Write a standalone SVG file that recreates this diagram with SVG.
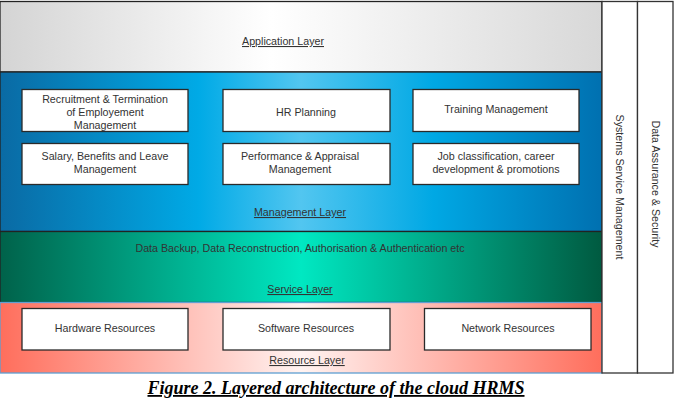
<svg xmlns="http://www.w3.org/2000/svg" width="676" height="405" viewBox="0 0 676 405">
<defs>
<linearGradient id="gApp" x1="0" y1="0" x2="1" y2="0">
<stop offset="0" stop-color="#d4d4d4"/><stop offset="0.45" stop-color="#ffffff"/><stop offset="1" stop-color="#d8d8d8"/>
</linearGradient>
<linearGradient id="gMgmt" x1="0" y1="0" x2="1" y2="0">
<stop offset="0" stop-color="#0a6aa4"/><stop offset="0.33" stop-color="#00aae6"/><stop offset="0.5" stop-color="#52c6f0"/><stop offset="0.72" stop-color="#00a8e4"/><stop offset="1" stop-color="#0070b0"/>
</linearGradient>
<linearGradient id="gSvc" x1="0" y1="0" x2="1" y2="0">
<stop offset="0" stop-color="#00624a"/><stop offset="0.5" stop-color="#00e8c2"/><stop offset="1" stop-color="#005a40"/>
</linearGradient>
<linearGradient id="gRes" x1="0" y1="0" x2="1" y2="0">
<stop offset="0" stop-color="#ff6e5c"/><stop offset="0.5" stop-color="#fff3f1"/><stop offset="1" stop-color="#ff6e5c"/>
</linearGradient>
</defs>
<style>
.layer{stroke:#222;stroke-width:1.3}
.box{fill:#fff;stroke:#2a2a2a;stroke-width:1.3}
.col{fill:#fff;stroke:#333;stroke-width:1.3}
text{font-family:"Liberation Sans",Arial,sans-serif;font-size:10.7px;fill:#333}
.lbl{text-anchor:middle}
.ul{text-decoration:underline}
.cap{font-family:"Liberation Serif","Times New Roman",serif;font-size:18px;font-weight:bold;font-style:italic;fill:#000;text-decoration:underline}
</style>
<rect width="676" height="405" fill="#fff"/>
<g id="application-layer">
<rect class="layer" x="0" y="1.5" width="602" height="70.5" fill="url(#gApp)"/>
<text class="lbl ul" x="283" y="45">Application Layer</text>
</g>
<g id="management-layer">
<rect class="layer" x="0" y="72" width="602" height="159.5" fill="url(#gMgmt)"/>
<text class="lbl ul" x="300" y="216">Management Layer</text>
</g>
<g id="service-layer">
<rect class="layer" x="0" y="231.5" width="602" height="71" fill="url(#gSvc)"/>
<text class="lbl" x="300" y="252">Data Backup, Data Reconstruction, Authorisation &amp; Authentication etc</text>
<text class="lbl ul" x="300" y="293">Service Layer</text>
</g>
<g id="resource-layer">
<rect x="0" y="302.5" width="602" height="70.5" fill="url(#gRes)" stroke="#5f9fd2" stroke-width="1.3"/>
<text class="lbl ul" x="307" y="364">Resource Layer</text>
</g>
<g id="recruitment">
<rect class="box" x="22" y="89.5" width="166" height="42"/>
<text class="lbl" x="105" y="103">Recruitment &amp; Termination</text>
<text class="lbl" x="105" y="116">of Employement</text>
<text class="lbl" x="105" y="129">Management</text>
</g>
<g id="hr-planning">
<rect class="box" x="223" y="89.5" width="167" height="42"/>
<text class="lbl" x="306" y="116">HR Planning</text>
</g>
<g id="training">
<rect class="box" x="413" y="89.5" width="166" height="42"/>
<text class="lbl" x="496" y="113">Training Management</text>
</g>
<g id="salary">
<rect class="box" x="22" y="143.5" width="166" height="41"/>
<text class="lbl" x="105" y="160">Salary, Benefits and Leave</text>
<text class="lbl" x="105" y="173">Management</text>
</g>
<g id="performance">
<rect class="box" x="223" y="143.5" width="167" height="41"/>
<text class="lbl" x="300" y="160">Performance &amp; Appraisal</text>
<text class="lbl" x="300" y="173">Management</text>
</g>
<g id="job-classification">
<rect class="box" x="413" y="143.5" width="166" height="41"/>
<text class="lbl" x="496" y="160">Job classification, career</text>
<text class="lbl" x="496" y="173">development &amp; promotions</text>
</g>
<g id="hardware">
<rect class="box" x="22" y="308.5" width="166" height="41.5"/>
<text class="lbl" x="105" y="332">Hardware Resources</text>
</g>
<g id="software">
<rect class="box" x="223" y="308.5" width="167" height="41.5"/>
<text class="lbl" x="306" y="332">Software Resources</text>
</g>
<g id="network">
<rect class="box" x="424.5" y="308.5" width="166.5" height="41.5"/>
<text class="lbl" x="508" y="332">Network Resources</text>
</g>
<g id="systems-service-management">
<rect class="col" x="602" y="1.5" width="35.5" height="371.5"/>
<text class="lbl" transform="translate(616,187) rotate(90)">Systems Service Management</text>
</g>
<g id="data-assurance">
<rect class="col" x="637.5" y="1.5" width="35.5" height="371.5"/>
<text class="lbl" transform="translate(652,184) rotate(90)">Data Assurance &amp; Security</text>
</g>
<g id="connectors"></g>
<text class="cap" x="336" y="394" text-anchor="middle">Figure 2. Layered architecture of the cloud HRMS</text>
</svg>
